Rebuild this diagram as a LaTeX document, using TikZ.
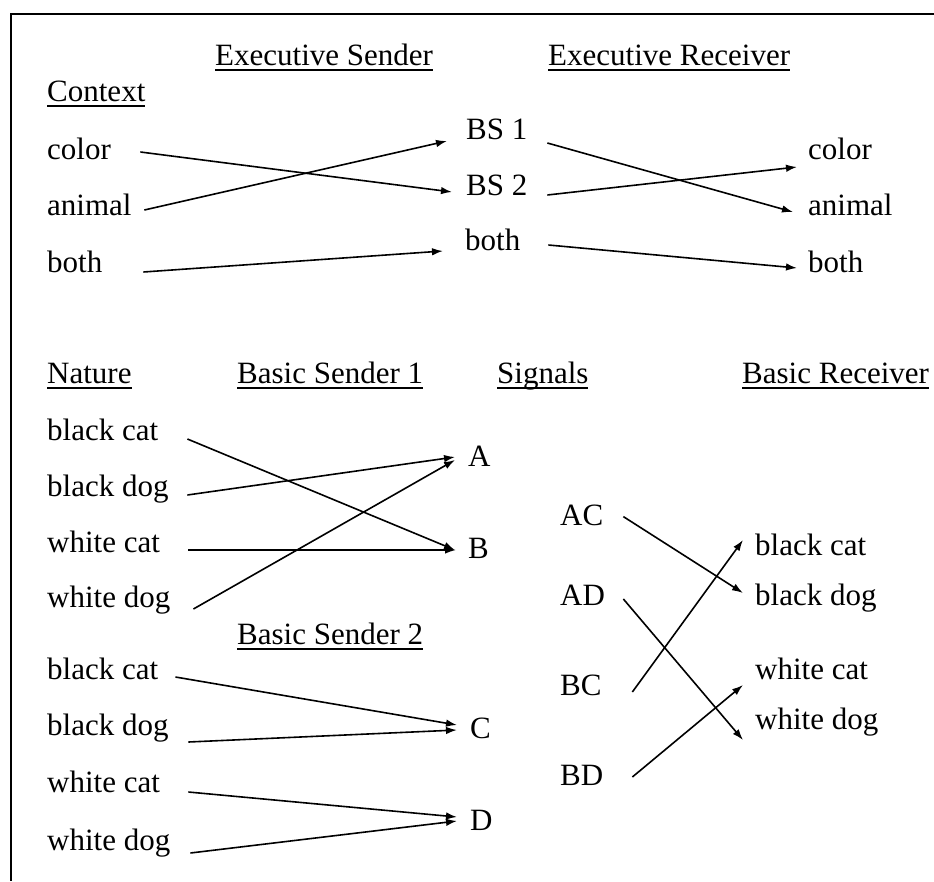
\documentclass[tikz,border=0pt]{standalone}
\usepackage{fontspec}
\setmainfont{Liberation Serif}
\usetikzlibrary{arrows.meta}
% underlined heading: rule drawn just below the baseline, crossing descenders
\newcommand\headrule[1]{\setbox0\hbox{#1}\rlap{\rule[-5.5pt]{\wd0}{2pt}}\box0}
\begin{document}
\begin{tikzpicture}[x=1pt,y=-1pt,
  every node/.style={inner sep=0pt,anchor=base west,text height=0.7em,text depth=0.22em,
    font=\fontsize{31}{37}\selectfont},
  arr/.style={line width=1.6pt,-{Latex[length=11pt,width=7.5pt]}},
  frame/.style={line width=2.2pt}]
\useasboundingbox (0,0) rectangle (934,881);
% box edges
\coordinate (tl) at (11,14);
\coordinate (tr) at (934,14);
\coordinate (bl) at (11,881);
\draw[frame] (tr) -- (tl) -- (bl);

% ---- executive level ----
\node (hES) at (215,65) {\headrule{Executive Sender}};
\node (hER) at (548,65) {\headrule{Executive Receiver}};
\node (hCtx) at (47,101) {\headrule{Context}};
\node (cColor)  at (47,159) {color};
\node (cAnimal) at (47,215) {animal};
\node (cBoth)   at (47,272) {both};
\node (bs1)     at (466,139) {BS 1};
\node (bs2)     at (466,195) {BS 2};
\node (bsBoth)  at (465,250) {both};
\node (rColor)  at (808,159) {color};
\node (rAnimal) at (808,215) {animal};
\node (rBoth)   at (808,272) {both};

\draw[arr] ([shift={(29.3,-4.6)}]cColor.east) -- ([shift={(-14,-0.6)}]bs2.west);
\draw[arr] ([shift={(12.6,-2.6)}]cAnimal.east) -- ([shift={(-19,4.4)}]bs1.west);
\draw[arr] ([shift={(40.9,2.4)}]cBoth.east) -- ([shift={(-22,3.4)}]bsBoth.west);
\draw[arr] ([shift={(19.8,6.4)}]bs1.east) -- ([shift={(-15,-0.6)}]rAnimal.west);
\draw[arr] ([shift={(19.8,2.4)}]bs2.east) -- ([shift={(-11,10.4)}]rColor.west);
\draw[arr] ([shift={(27.9,-2.6)}]bsBoth.east) -- ([shift={(-11,-1.6)}]rBoth.west);

% ---- basic level ----
\node (hNat) at (47,383) {\headrule{Nature}};
\node (hBS1) at (237,383) {\headrule{Basic Sender 1}};
\node (hSig) at (497,383) {\headrule{Signals}};
\node (hBR)  at (742,383) {\headrule{Basic Receiver}};

\node (n1bc) at (47,440) {black cat};
\node (n1bd) at (47,496) {black dog};
\node (n1wc) at (47,552) {white cat};
\node (n1wd) at (47,607) {white dog};
\node (sA) at (468,466) {A};
\node (sB) at (468,558) {B};

\draw[arr] ([shift={(29,1.4)}]n1bc.east) -- ([shift={(-13,-5.6)}]sB.west);
\draw[arr] ([shift={(18.6,1.4)}]n1bd.east) -- ([shift={(-13,-6.6)}]sA.west);
\draw[arr] ([shift={(28.2,0.4)}]n1wc.east) -- ([shift={(-12,-5.6)}]sB.west);
\draw[arr] ([shift={(22.9,4.4)}]n1wd.east) -- ([shift={(-13,-3.6)}]sA.west);

\node (hBS2) at (237,644) {\headrule{Basic Sender 2}};
\node (n2bc) at (47,679) {black cat};
\node (n2bd) at (47,735) {black dog};
\node (n2wc) at (47,792) {white cat};
\node (n2wd) at (47,850) {white dog};
\node (sC) at (470,738) {C};
\node (sD) at (470,830) {D};

\draw[arr] ([shift={(17,0.4)}]n2bc.east) -- ([shift={(-13,-10.6)}]sC.west);
\draw[arr] ([shift={(19.6,9.4)}]n2bd.east) -- ([shift={(-13,-5.6)}]sC.west);
\draw[arr] ([shift={(28.2,2.4)}]n2wc.east) -- ([shift={(-13,-10.6)}]sD.west);
\draw[arr] ([shift={(19.9,5.4)}]n2wd.east) -- ([shift={(-13,-6.6)}]sD.west);

% signal pairs and basic receiver
\node (sAC) at (560,525) {AC};
\node (sAD) at (560,605) {AD};
\node (sBC) at (560,695) {BC};
\node (sBD) at (560,785) {BD};
\node (rbc) at (755,555) {black cat};
\node (rbd) at (755,605) {black dog};
\node (rwc) at (755,679) {white cat};
\node (rwd) at (755,729) {white dog};

\draw[arr] ([shift={(19.9,-6)}]sAC.east) -- ([shift={(-12,-9.6)}]rbd.west);
\draw[arr] ([shift={(18.2,-3.6)}]sAD.east) -- ([shift={(-12,13.4)}]rwd.west);
\draw[arr] ([shift={(30.6,-0.6)}]sBC.east) -- ([shift={(-12,-12.6)}]rbc.west);
\draw[arr] ([shift={(28.9,-5.6)}]sBD.east) -- ([shift={(-12,8.4)}]rwc.west);
\end{tikzpicture}
\end{document}
